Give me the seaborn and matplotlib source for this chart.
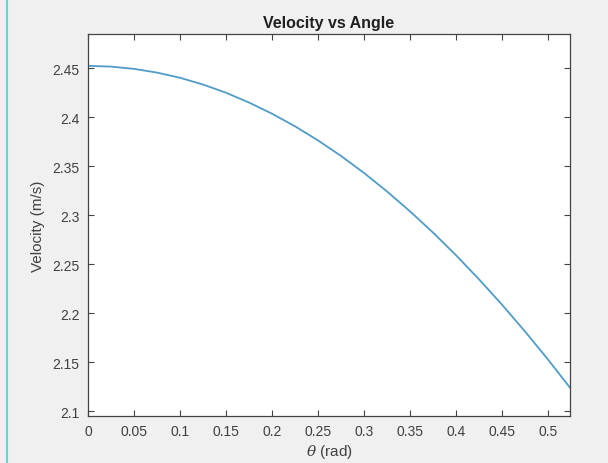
import matplotlib
matplotlib.use("Agg")
import matplotlib.pyplot as plt
import seaborn as sns
import pandas as pd
from matplotlib.lines import Line2D

# values
theta = [0.0, 0.025, 0.05, 0.075, 0.1, 0.125, 0.15, 0.175, 0.2, 0.225, 0.25,
         0.275, 0.3, 0.325, 0.35, 0.375, 0.4, 0.425, 0.45, 0.475, 0.5, 0.5236]
velocity = [2.4525, 2.4517, 2.4494, 2.4456, 2.4403, 2.4334, 2.4250, 2.4150,
            2.4036, 2.3907, 2.3763, 2.3604, 2.3430, 2.3241, 2.3038, 2.2821,
            2.2589, 2.2343, 2.2084, 2.1810, 2.1523, 2.1239]

x_ticks = [0, 0.05, 0.1, 0.15, 0.2, 0.25, 0.3, 0.35, 0.4, 0.45, 0.5]
x_labels = ["0", "0.05", "0.1", "0.15", "0.2", "0.25", "0.3", "0.35", "0.4", "0.45", "0.5"]
y_ticks = [2.1, 2.15, 2.2, 2.25, 2.3, 2.35, 2.4, 2.45]
y_labels = ["2.1", "2.15", "2.2", "2.25", "2.3", "2.35", "2.4", "2.45"]

df = pd.DataFrame({"theta": theta, "velocity": velocity})

sns.set_style("ticks")
plt.rcParams["font.family"] = ["Liberation Sans", "DejaVu Sans"]
plt.rcParams["mathtext.fontset"] = "dejavuserif"

fig = plt.figure(figsize=(6.08, 4.64), dpi=100, facecolor="#f0f0f0")
ax = fig.add_axes([88 / 608, 1 - 417 / 464, (570 - 88) / 608, (417 - 35) / 464])
ax.set_facecolor("white")

sns.lineplot(data=df, x="theta", y="velocity", ax=ax, color="#4f9cc9",
             linewidth=1.3, sort=False)

ax.set_xlim(0, 0.5236)
ax.set_ylim(2.095, 2.485)
ax.set_xticks(x_ticks)
ax.set_xticklabels(x_labels)
ax.set_yticks(y_ticks)
ax.set_yticklabels(y_labels)

edge = "#444444"
for s in ax.spines.values():
    s.set_color(edge)
    s.set_linewidth(0.9)
ax.tick_params(direction="in", length=4, width=0.8, colors=edge,
               labelcolor="#404040", labelsize=10, top=True, right=True, pad=6)

ax.set_title("Velocity vs Angle", fontsize=11.5, fontweight="bold", color="#202020", pad=5)
ax.set_xlabel(r"$\theta$ (rad)", fontsize=11, color="#404040", labelpad=3)
ax.set_ylabel("Velocity (m/s)", fontsize=11, color="#404040", labelpad=5)

# window border line on the left
fig.add_artist(Line2D([7 / 608, 7 / 608], [0, 1], color="#6fd0d8", linewidth=1.5))

fig.savefig("out.png", dpi=100, facecolor=fig.get_facecolor())
